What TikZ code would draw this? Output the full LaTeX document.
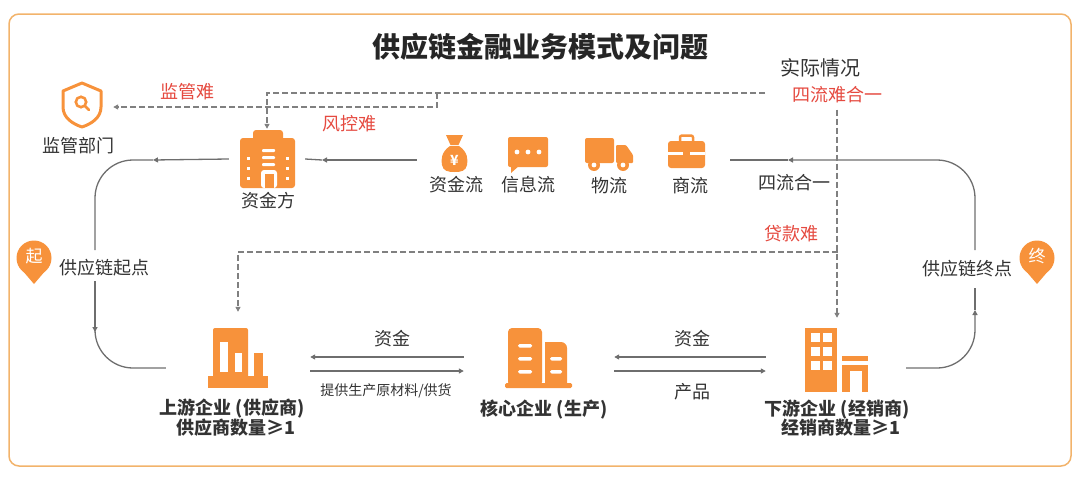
\documentclass[tikz,border=0pt]{standalone}
\usepackage{fontspec}
\setmainfont{Noto Sans CJK SC}
\usetikzlibrary{arrows.meta}
\definecolor{iconorange}{RGB}{247,146,59}
\definecolor{redtext}{RGB}{229,74,64}
\definecolor{framecol}{RGB}{242,179,107}
\definecolor{darktext}{RGB}{51,51,51}
\definecolor{linegray}{RGB}{110,110,110}
\definecolor{dashgray}{RGB}{128,128,128}
\tikzset{
  txt/.style={inner sep=0pt, text=darktext, font=\fontsize{18}{21}\selectfont},
  redtxt/.style={inner sep=0pt, text=redtext, font=\fontsize{18}{21}\selectfont},
  boldtxt/.style={inner sep=0pt, text=darktext, font=\fontsize{18}{21}\selectfont\bfseries},
  smalltxt/.style={inner sep=0pt, text=darktext, font=\fontsize{14}{16}\selectfont},
  iconbox/.style={inner sep=0pt, draw=none},
  grayline/.style={draw=linegray, line width=1.3pt},
  dashline/.style={draw=dashgray, line width=1.2pt, dash pattern=on 6pt off 3pt},
  tip/.style={-{Triangle[length=5pt,width=5pt]}}
}
\begin{document}
\begin{tikzpicture}[x=1pt,y=-1pt]
	\useasboundingbox (0,0) rectangle (1080,482);
	\draw[framecol, line width=1.5pt, rounded corners=10] (9,14) rectangle (1071,466);%Rahmen

	\node[inner sep=0pt, text=black!85, font=\fontsize{28}{30}\selectfont\bfseries] (title) at (540,47) {供应链金融业务模式及问题};

	%icon boxes, nur Anker
	\node[iconbox, minimum width=60pt, minimum height=46pt] (jgicon) at (83,107) {};
	\node[iconbox, minimum width=76pt, minimum height=60pt] (zjficon) at (267,159) {};
	\node[iconbox, minimum width=76pt, minimum height=40pt] (zjlicon) at (455,160) {};
	\node[iconbox, minimum width=82pt, minimum height=40pt] (slicon) at (689,160) {};
	\node[iconbox, minimum width=144pt, minimum height=104pt] (syicon) at (238,364) {};
	\node[iconbox, minimum width=150pt, minimum height=80pt] (hxicon) at (539,364) {};
	\node[iconbox, minimum width=140pt, minimum height=92pt] (xyicon) at (836,364) {};

	%Schild mit Lupe
	\draw[iconorange, line width=3pt, line join=round] (82,83) -- (101,91) -- (101,107) .. controls (101,118) and (91,124) .. (82,127) .. controls (73,124) and (63,118) .. (63,107) -- (63,91) -- cycle;
	\draw[iconorange, line width=2.6pt] (81,102) circle (5.2);
	\draw[iconorange, line width=2.8pt, line cap=round] (85,106) -- (89,110);

	%Bank Gebaeude
	\fill[iconorange, rounded corners=3] (253,130) rectangle (283,146);
	\fill[iconorange, rounded corners=3] (240,138) rectangle (295,188);
	\foreach \y in {149,156,163} \fill[white, rounded corners=1] (262,\y) rectangle (275,\y+3);
	\foreach \y in {157,167,177} {
		\fill[white] (246.5,\y) rectangle (250,\y+3);
		\fill[white] (285.5,\y) rectangle (289,\y+3);
	}
	\fill[white, rounded corners=3] (261,170) rectangle (277,188);
	\fill[iconorange] (264.5,173.5) rectangle (273.5,188);

	%Geldsack
	\fill[iconorange] (446,135) -- (463,135) -- (458.5,145) -- (450.5,145) -- cycle;
	\fill[iconorange] (450,146) .. controls (441,152) and (441,160) .. (442,165) .. controls (443,171) and (448,172) .. (454.5,172) .. controls (461,172) and (466,171) .. (467,165) .. controls (468,160) and (468,152) .. (459,146) -- cycle;
	\node[inner sep=0pt, text=white, font=\fontsize{14}{14}\selectfont\bfseries] at (454.5,160) {¥};

	%Nachricht
	\fill[iconorange, rounded corners=2] (508,137) rectangle (548,167);
	\fill[iconorange] (511,165) -- (511,173) -- (520,165) -- cycle;
	\foreach \x in {517,528,539} \fill[white] (\x,152) circle (2.4);

	%LKW
	\fill[iconorange, rounded corners=2] (585,138) rectangle (614,163);
	\fill[iconorange, rounded corners=1] (616,145) -- (626,145) -- (633,155) -- (633,163) -- (616,163) -- cycle;
	\foreach \x in {594,623} {
		\fill[iconorange] (\x,165) circle (6);
		\fill[white] (\x,165) circle (2.4);
	}

	%Koffer
	\draw[iconorange, line width=2.5pt, rounded corners=2] (680,142) -- (680,135.5) -- (693,135.5) -- (693,142);
	\fill[iconorange, rounded corners=3] (668,141) rectangle (705,168);
	\fill[white] (668,152) rectangle (705,154.5);
	\fill[iconorange] (683,149) rectangle (690,157.5);

	%Lieferant
	\fill[iconorange, rounded corners=2] (213,328) rectangle (248,380);
	\fill[iconorange] (254,353) rectangle (263,380);
	\fill[iconorange] (208,376) rectangle (268,388);
	\fill[white] (220,342) rectangle (228,372);
	\fill[white] (235,353) rectangle (242,372);

	%Kernunternehmen
	\fill[iconorange, rounded corners=4] (508,328) rectangle (542,386);
	\fill[iconorange] (545,386) -- (545,342) [rounded corners=6] -- (567,342) [sharp corners] -- (567,386) -- cycle;
	\fill[iconorange, rounded corners=1.5] (505,383) rectangle (572,388);
	\foreach \y in {344,357,370} \fill[white, rounded corners=1.5] (518,\y) rectangle (532,\y+3.5);
	\foreach \y in {357,370} \fill[white, rounded corners=1.5] (550,\y) rectangle (562,\y+3.5);

	%Haendler
	\fill[iconorange] (805,328) rectangle (837,392);
	\foreach \x in {811,823} \foreach \y in {333,347,361} \fill[white] (\x,\y) rectangle (\x+9,\y+9);
	\fill[iconorange] (842,356) rectangle (868,361);
	\fill[iconorange] (842,365) rectangle (868,392);
	\fill[white] (850,371) rectangle (862,392);

	%Marker
	\foreach \x/\t/\n in {34/起/qdmark,1037/终/zdmark} {
		\fill[iconorange] (\x,258) circle (17.5);
		\fill[iconorange] (\x-12,270) -- (\x,284) -- (\x+12,270) -- cycle;
		\node[inner sep=0pt, text=white, font=\fontsize{17}{17}\selectfont] (\n) at (\x,256) {\t};
	}

	%Texte
	\node[txt] (jglbl) at (78,146) {监管部门};
	\node[redtxt] (jgnan) at (187,92) {监管难};
	\node[redtxt] (fknan) at (349,124) {风控难};
	\node[txt] (zjflbl) at (268,201) {资金方};
	\node[inner sep=0pt, text=darktext, font=\fontsize{20}{22}\selectfont] (sjqk) at (820,68) {实际情况};
	\node[redtxt] (slnhy) at (837,95) {四流难合一};
	\node[txt] (zjllbl) at (456,185) {资金流};
	\node[txt] (xxllbl) at (528,185) {信息流};
	\node[txt] (wllbl) at (609,186) {物流};
	\node[txt] (sllbl) at (690,186) {商流};
	\node[txt] (slhy) at (794,183) {四流合一};
	\node[redtxt] (dknan) at (791,234) {贷款难};
	\node[txt] (qdlbl) at (104,268) {供应链起点};
	\node[txt] (zdlbl) at (967,269) {供应链终点};
	\node[boldtxt] (sylbl) at (232,409) {上游企业 (供应商)};
	\node[boldtxt] (sylbl2) at (236,428) {供应商数量≥1};
	\node[boldtxt] (hxlbl) at (544,410) {核心企业 (生产)};
	\node[boldtxt] (xylbl) at (837,410) {下游企业 (经销商)};
	\node[boldtxt] (xylbl2) at (841,428) {经销商数量≥1};
	\node[txt] (zjleft) at (392,339) {资金};
	\node[smalltxt] (gh) at (386,391) {提供生产原材料/供货};
	\node[txt] (zjright) at (692,339) {资金};
	\node[txt] (cp) at (692,392) {产品};

	%Kreislauf
	\coordinate (lefttop) at (95,250);
	\coordinate (leftbot) at (95,281);
	\coordinate (righttop) at (975,250);
	\coordinate (rightbot) at (975,288);
	\draw[grayline, tip] (zjficon.west) -- (153,160);
	\draw[grayline, rounded corners=38] (153,160) -| (lefttop);
	\draw[grayline, tip] (leftbot) -- (95,332);
	\draw[grayline, rounded corners=38] (95,332) |- ([yshift=-4pt]syicon.west);
	\draw[grayline, rounded corners=38, tip] ([yshift=-4pt]xyicon.east) -| (975,310);
	\draw[grayline] (975,310) -- (rightbot);
	\draw[grayline, rounded corners=38, tip] (righttop) |- (788,160);
	\draw[grayline] (788,160) -- (slicon.east);
	\draw[grayline, tip] (zjlicon.west) -- (322,160);
	\draw[grayline] (322,160) -- (zjficon.east);

	%Geld und Ware
	\draw[grayline, tip] ([yshift=7pt]hxicon.west) -- ([yshift=7pt]syicon.east);
	\draw[grayline, tip] ([yshift=-7pt]syicon.east) -- ([yshift=-7pt]hxicon.west);
	\draw[grayline, tip] ([yshift=7pt]xyicon.west) -- ([yshift=7pt]hxicon.east);
	\draw[grayline, tip] ([yshift=-7pt]hxicon.east) -- ([yshift=-7pt]xyicon.west);

	%Probleme gestrichelt
	\coordinate (qkleft) at (765,93);
	\coordinate (jgturn) at (437,93);
	\coordinate (dkright) at (838,252);
	\draw[dashline, tip] (qkleft) -| (zjficon.north);
	\draw[dashline, tip] (jgturn) |- (jgicon.east);
	\draw[dashline, tip, shorten <=6pt] (slnhy.south) -- (slnhy.south |- xyicon.north);
	\draw[dashline, tip] (dkright) -| (syicon.north);
\end{tikzpicture}
\end{document}
